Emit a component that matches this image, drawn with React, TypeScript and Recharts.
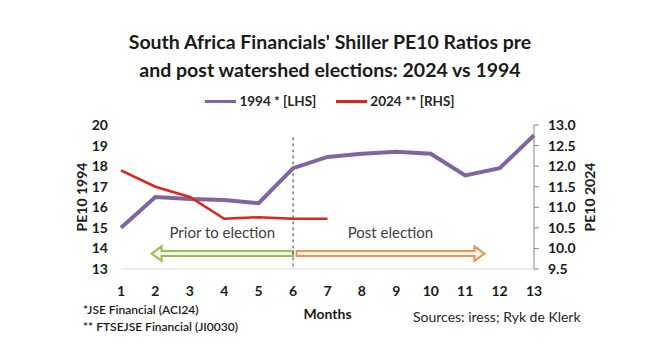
import React from 'react';
import {
  ComposedChart,
  Line,
  XAxis,
  YAxis,
  ReferenceLine,
  ReferenceArea,
} from 'recharts';

// ---- data ----
const months = [1, 2, 3, 4, 5, 6, 7, 8, 9, 10, 11, 12, 13];
const pe1994 = [15.0, 16.5, 16.4, 16.35, 16.2, 17.9, 18.45, 18.6, 18.7, 18.6, 17.55, 17.9, 19.5];
const pe2024: (number | null)[] = [11.9, 11.5, 11.25, 10.72, 10.76, 10.72, 10.72, null, null, null, null, null, null];
const leftTicks = [13, 14, 15, 16, 17, 18, 19, 20];
const rightTicks = [9.5, 10.0, 10.5, 11.0, 11.5, 12.0, 12.5, 13.0];
const electionMonth = 6;
const priorRange = [1.89, 6.0];
const postRange = [6.1, 11.56];
const arrowBand = [13.39, 14.11];

const series = [
  { key: 'pe1994', name: '1994 * [LHS]', color: '#8064A2', width: 4, axis: 'left' },
  { key: 'pe2024', name: '2024 ** [RHS]', color: '#E2231A', width: 2.5, axis: 'right' },
];

const data = months.map((m, i) => ({ month: m, pe1994: pe1994[i], pe2024: pe2024[i] }));

const FONT = 'Lato, "Open Sans", sans-serif';
const TICK = { fill: '#1a1a1a', fontSize: 14, fontWeight: 700, fontFamily: FONT };

const ArrowShape = (props: any) => {
  const { x, y, width, height, dir, stroke, fill } = props;
  if (x == null || y == null) return null;
  const cy = y + height / 2;
  const hl = 10;
  const bh = 5;
  let d: string;
  if (dir === 'left') {
    d = `M${x},${cy} L${x + hl},${y} L${x + hl},${cy - bh / 2} L${x + width},${cy - bh / 2} L${x + width},${cy + bh / 2} L${x + hl},${cy + bh / 2} L${x + hl},${y + height} Z`;
  } else {
    const r = x + width;
    d = `M${r},${cy} L${r - hl},${y} L${r - hl},${cy - bh / 2} L${x},${cy - bh / 2} L${x},${cy + bh / 2} L${r - hl},${cy + bh / 2} L${r - hl},${y + height} Z`;
  }
  return <path d={d} fill={fill} stroke={stroke} strokeWidth={2} strokeLinejoin="miter" />;
};

export default function App() {
  return (
    <div style={{ position: 'relative', width: 660, height: 361, background: '#fff', fontFamily: FONT }}>
      <style>{`body{margin:0;}`}</style>
      <div
        style={{
          position: 'absolute',
          top: 28,
          left: 0,
          width: 660,
          textAlign: 'center',
          fontWeight: 700,
          fontSize: 19.5,
          lineHeight: '28px',
          color: '#1a1a1a',
        }}
      >
        South Africa Financials' Shiller PE10 Ratios pre
        <br />
        and post watershed elections: 2024 vs 1994
      </div>
      <div
        style={{
          position: 'absolute',
          top: 92,
          left: 0,
          width: 660,
          display: 'flex',
          justifyContent: 'center',
          gap: 20,
          fontWeight: 700,
          fontSize: 13.5,
          lineHeight: '18px',
          color: '#262626',
        }}
      >
        {series.map((s) => (
          <div key={s.key} style={{ display: 'flex', alignItems: 'center' }}>
            <div style={{ width: 31, height: 3, background: s.color, marginRight: 3 }} />
            <span>{s.name}</span>
          </div>
        ))}
      </div>
      <ComposedChart
        width={660}
        height={361}
        data={data}
        margin={{ top: 125, right: 70, bottom: 62, left: 81 }}
        style={{ position: 'absolute', top: 0, left: 0 }}
      >
        <XAxis
          dataKey="month"
          type="number"
          domain={[1, 13]}
          ticks={months}
          interval={0}
          height={30}
          axisLine={{ stroke: '#d9d9d9' }}
          tickLine={false}
          tickSize={6}
          tickMargin={11}
          tick={TICK}
          label={{
            value: 'Months',
            position: 'bottom',
            offset: 10,
            style: { fill: '#1a1a1a', fontSize: 14, fontWeight: 700, fontFamily: FONT },
          }}
        />
        <YAxis
          yAxisId="left"
          orientation="left"
          domain={[13, 20]}
          ticks={leftTicks}
          interval={0}
          width={40}
          axisLine={false}
          tickLine={false}
          tickSize={6}
          tickMargin={7}
          tick={TICK}
          label={{
            value: 'PE10 1994',
            angle: -90,
            position: 'insideLeft',
            offset: 1,
            style: { textAnchor: 'middle', fill: '#1a1a1a', fontSize: 14, fontWeight: 700, fontFamily: FONT },
          }}
        />
        <YAxis
          yAxisId="right"
          orientation="right"
          domain={[9.5, 13]}
          ticks={rightTicks}
          interval={0}
          width={56}
          axisLine={{ stroke: '#868686' }}
          tickLine={{ stroke: '#868686' }}
          tickSize={5}
          tickMargin={9}
          tickFormatter={(v: number) => v.toFixed(1)}
          tick={TICK}
          label={{
            value: 'PE10 2024',
            angle: -90,
            position: 'insideRight',
            offset: 0,
            style: { textAnchor: 'middle', fill: '#1a1a1a', fontSize: 14, fontWeight: 700, fontFamily: FONT },
          }}
        />
        <ReferenceArea
          yAxisId="left"
          x1={priorRange[0]}
          x2={priorRange[1]}
          y1={arrowBand[0]}
          y2={arrowBand[1]}
          ifOverflow="visible"
          shape={(p: any) => <ArrowShape {...p} dir="left" stroke="#9BBB59" fill="#f3f7ea" />}
          label={{
            value: 'Prior to election',
            position: 'top',
            offset: 8,
            style: { fill: '#404040', fontSize: 15, fontFamily: FONT },
          }}
        />
        <ReferenceArea
          yAxisId="left"
          x1={postRange[0]}
          x2={postRange[1]}
          y1={arrowBand[0]}
          y2={arrowBand[1]}
          ifOverflow="visible"
          shape={(p: any) => <ArrowShape {...p} dir="right" stroke="#E8955A" fill="#fdf1e8" />}
          label={{
            value: 'Post election',
            position: 'top',
            offset: 8,
            style: { fill: '#404040', fontSize: 15, fontFamily: FONT },
          }}
        />
        <ReferenceLine
          yAxisId="left"
          segment={[
            { x: electionMonth, y: 19.4 },
            { x: electionMonth, y: 13 },
          ]}
          stroke="#404040"
          strokeDasharray="3 3"
          ifOverflow="visible"
        />
        {series.map((s) => (
          <Line
            key={s.key}
            yAxisId={s.axis}
            dataKey={s.key}
            name={s.name}
            stroke={s.color}
            strokeWidth={s.width}
            dot={false}
            activeDot={false}
            connectNulls={false}
            isAnimationActive={false}
          />
        ))}
      </ComposedChart>
      <div
        style={{
          position: 'absolute',
          left: 83,
          top: 301,
          fontSize: 12,
          fontWeight: 600,
          lineHeight: '17px',
          color: '#1a1a1a',
        }}
      >
        <div>*JSE Financial (ACI24)</div>
        <div>** FTSEJSE Financial (JI0030)</div>
      </div>
      <div
        style={{
          position: 'absolute',
          left: 413,
          top: 308,
          fontSize: 14,
          lineHeight: '18px',
          color: '#262626',
        }}
      >
        Sources: iress; Ryk de Klerk
      </div>
    </div>
  );
}
